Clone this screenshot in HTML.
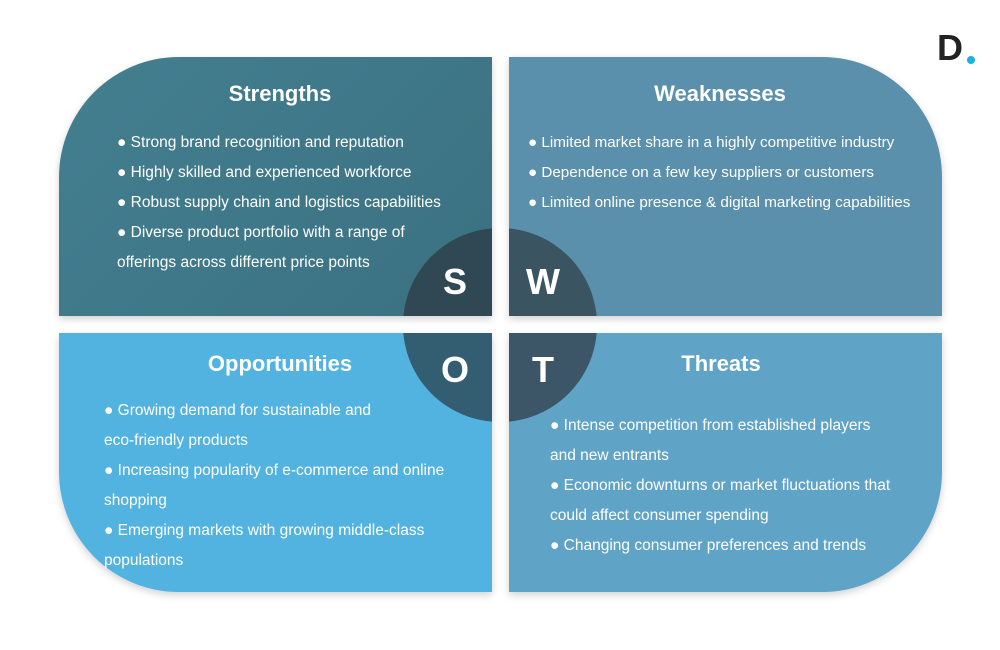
<!DOCTYPE html>
<html><head><meta charset="utf-8"><style>
body{margin:0;width:1000px;height:650px;background:#fff;position:relative;overflow:hidden;font-family:"Liberation Sans",sans-serif}
.q{position:absolute;width:433px;height:259px;overflow:hidden;box-shadow:0 3px 8px rgba(0,0,0,.18)}
.c{position:absolute;width:194px;height:194px;border-radius:50%}
.t{position:absolute;color:#fff;font-weight:bold;font-size:22px;text-align:center;white-space:nowrap}
.b{position:absolute;color:#fff;font-size:15.5px;line-height:30px;white-space:nowrap}
.L{position:absolute;color:#fff;font-weight:bold;font-size:36px;width:60px;text-align:center;line-height:40px}
</style></head><body>
<div class="q" style="left:59px;top:57px;background:linear-gradient(135deg,#437f90,#3b7182);border-top-left-radius:120px">
 <div class="c" style="left:344px;top:171px;background:#2f4853"></div></div>
<div class="q" style="left:509px;top:57px;background:#5a90ab;border-top-right-radius:120px">
 <div class="c" style="left:-106px;top:171px;background:#3a5462"></div></div>
<div class="q" style="left:59px;top:333px;background:#52b3e0;border-bottom-left-radius:120px">
 <div class="c" style="left:344px;top:-105px;background:#335d71"></div></div>
<div class="q" style="left:509px;top:333px;background:#5fa3c7;border-bottom-right-radius:120px">
 <div class="c" style="left:-106px;top:-105px;background:#3c5667"></div></div>

<div class="t" style="left:180px;width:200px;top:81px">Strengths</div>
<div class="t" style="left:620px;width:200px;top:81px">Weaknesses</div>
<div class="t" style="left:180px;width:200px;top:351px">Opportunities</div>
<div class="t" style="left:621px;width:200px;top:351px">Threats</div>

<div class="L" style="left:425px;top:262px">S</div>
<div class="L" style="left:513px;top:262px">W</div>
<div class="L" style="left:425px;top:350px">O</div>
<div class="L" style="left:513px;top:350px">T</div>

<div class="b" style="left:117px;top:128px">● Strong brand recognition and reputation<br>● Highly skilled and experienced workforce<br>● Robust supply chain and logistics capabilities<br>● Diverse product portfolio with a range of<br>offerings across different price points</div>
<div class="b" style="left:528px;top:128px;font-size:15.2px">● Limited market share in a highly competitive industry<br>● Dependence on a few key suppliers or customers<br>● Limited online presence &amp; digital marketing capabilities</div>
<div class="b" style="left:104px;top:396px">● Growing demand for sustainable and<br>eco-friendly products<br>● Increasing popularity of e-commerce and online<br>shopping<br>● Emerging markets with growing middle-class<br>populations</div>
<div class="b" style="left:550px;top:411px">● Intense competition from established players<br>and new entrants<br>● Economic downturns or market fluctuations that<br>could affect consumer spending<br>● Changing consumer preferences and trends</div>

<div style="position:absolute;left:937px;top:28px;font-size:36px;font-weight:bold;color:#222;line-height:40px">D</div>
<div style="position:absolute;left:967px;top:56px;width:8px;height:8px;border-radius:50%;background:#1ab0e8"></div>
</body></html>
